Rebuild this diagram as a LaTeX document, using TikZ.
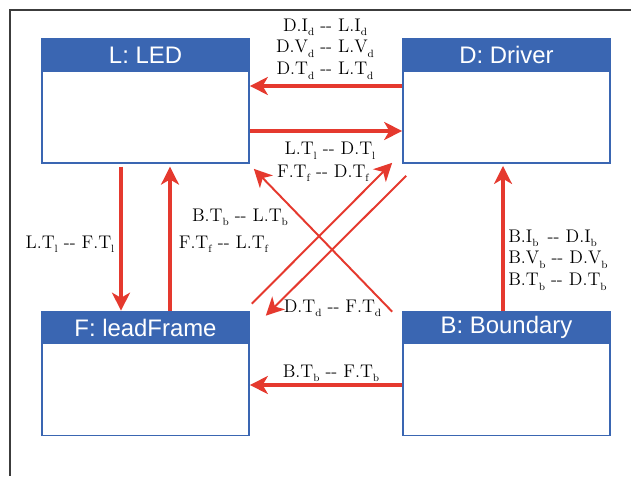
\documentclass[tikz,border=0pt]{standalone}
\usepackage{fontspec}
\newfontfamily\headfont{Liberation Sans}
\usepackage{tikz}
\usetikzlibrary{arrows.meta,positioning}
\definecolor{hdblue}{HTML}{3A66B2}
\definecolor{wirered}{HTML}{E5392E}
\definecolor{framegray}{HTML}{3C3C3C}
\newcommand{\pv}[3]{#1.#2\raisebox{-.6ex}{\fontsize{7.5}{8}\selectfont#3}}
\tikzset{comp/.style={draw=hdblue,line width=1.2pt,minimum width=5.175cm,minimum height=3.1cm,inner sep=0pt},hd/.style={draw=hdblue,fill=hdblue,line width=1.2pt,minimum width=5.175cm,minimum height=.8cm,anchor=north,inner sep=0pt,text=white,font=\headfont\fontsize{17}{20}\selectfont},wire/.style={-{Stealth[length=4.5mm,width=4.5mm,inset=1.3mm]},draw=wirered,line width=2.2pt},xwire/.style={wire,line width=1.4pt},lbl/.style={inner sep=0pt,align=center,font=\fontsize{13}{15.3}\selectfont}}

\begin{document}
\begin{tikzpicture}[x=1cm,y=1cm]
\useasboundingbox (0,0) rectangle (15.775,-11.9);
\draw[framegray,line width=1pt] (15.775,-.25)--(.25,-.25)--(.25,-11.9);
\node[comp] (L) at (3.6375,-2.525) {};
\node[hd] (Lh) at (L.north) {L: LED};
\node[comp] (D) at (12.6625,-2.525) {};
\node[hd] (Dh) at (D.north) {D: Driver};
\node[comp] (F) at (3.6375,-9.3375) {};
\node[hd] (Fh) at (F.north) {F: leadFrame};
\node[comp] (B) at (12.6625,-9.3375) {};
\node[hd] (Bh) at (B.north) {B: Boundary};
\draw[wire] ([yshift=.375cm]D.west)--([yshift=.375cm]L.east);
\draw[wire] ([yshift=-.75cm]L.east)--([yshift=-.75cm]D.west);
\draw[wire,shorten <=2pt] ([xshift=-.6125cm]L.south)--([xshift=-.6125cm]F.north);
\draw[wire,shorten >=2pt] ([xshift=.6125cm]F.north)--([xshift=.6125cm]L.south);
\draw[wire,shorten >=1.5pt] ([xshift=-.0875cm]B.north)--([xshift=-.0875cm]D.south);
\draw[wire] ([yshift=-.2875cm]B.west)--([yshift=-.2875cm]F.east);
\draw[xwire] ([shift={(-.25,-.025)}]B.north west)--([shift={(.1,-.125)}]L.south east);
\draw[xwire] ([shift={(.05,.175)}]F.north east)--([shift={(-.25,.025)}]D.south west);
\draw[xwire] ([shift={(.1,-.3)}]D.south west)--([shift={(.4,-.125)}]F.north east);
\node[lbl,anchor=north] (tDL) at (8.125,-.4625) {\pv{D}{I}{d} -{}- \pv{L}{I}{d}\\\pv{D}{V}{d} -{}- \pv{L}{V}{d}\\\pv{D}{T}{d} -{}- \pv{L}{T}{d}};
\node[lbl,anchor=base] (tLD) at (8.25,-3.875) {\pv{L}{T}{l} -{}- \pv{D}{T}{l}};
\node[lbl,anchor=base] (tFD) at (8.075,-4.425) {\pv{F}{T}{f} -{}- \pv{D}{T}{f}};
\node[lbl,anchor=base] (tBL) at (6,-5.525) {\pv{B}{T}{b} -{}- \pv{L}{T}{b}};
\node[lbl,anchor=base] (tLF) at (1.75,-6.2) {\pv{L}{T}{l} -{}- \pv{F}{T}{l}};
\node[lbl,anchor=base] (tFL) at (5.5875,-6.2) {\pv{F}{T}{f} -{}- \pv{L}{T}{f}};
\node[lbl,anchor=base] (tDF) at (8.3125,-7.8) {\pv{D}{T}{d} -{}- \pv{F}{T}{d}};
\node[lbl,anchor=base] (tBF) at (8.275,-9.425) {\pv{B}{T}{b} -{}- \pv{F}{T}{b}};
\node[lbl,anchor=north west,align=left] (tBD) at (12.7,-5.7375) {\pv{B}{I}{b}\enspace -{}- \pv{D}{I}{b}\\\pv{B}{V}{b} -{}- \pv{D}{V}{b}\\\pv{B}{T}{b} -{}- \pv{D}{T}{b}};
\end{tikzpicture}
\end{document}
